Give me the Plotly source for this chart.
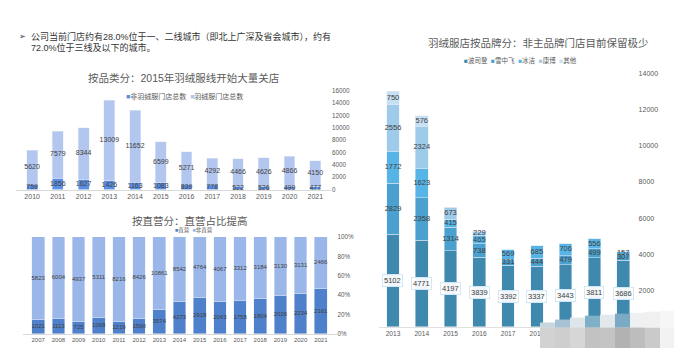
import plotly.graph_objects as go

W, H = 674, 351

# ---------------- data ----------------
years1 = ['2010', '2011', '2012', '2013', '2014', '2015', '2016', '2017', '2018', '2019', '2020', '2021']
non_down = [759, 1856, 1627, 1426, 1163, 1083, 839, 778, 522, 526, 499, 477]
down = [5620, 7579, 8344, 13009, 11652, 6599, 5271, 4292, 4466, 4626, 4866, 4150]

years2 = ['2007', '2008', '2009', '2010', '2011', '2012', '2013', '2014', '2015', '2016', '2017', '2018', '2019', '2020', '2021']
direct = [1021, 1113, 725, 1068, 1219, 1590, 3574, 4273, 2918, 2043, 1758, 1804, 2026, 2234, 2161]
non_direct = [5823, 6004, 4937, 5311, 8216, 8426, 10861, 8542, 4764, 4067, 3312, 3184, 3130, 3131, 2466]

years3 = ['2013', '2014', '2015', '2016', '2017', '2018', '2019', '2020', '2021']
bosideng = [5102, 4771, 4197, 3839, 3392, 3337, 3443, 3811, 3686]
xuezhongfei = [2829, 2358, 1314, 738, 331, 444, 479, 499, 307]
bingjie = [1772, 1623, 415, 465, 569, 685, 706, 556, 157]
kangbo = [2556, 2324, 673, 229, 0, 0, 0, 0, 0]
other = [750, 576, 0, 0, 0, 0, 0, 0, 0]
brand_names = ['波司登', '雪中飞', '冰洁', '康博', '其他']

ticks1 = [0, 2000, 4000, 6000, 8000, 10000, 12000, 14000, 16000]
ticks2 = [0, 0.2, 0.4, 0.6, 0.8, 1.0]
ticks3 = [0, 2000, 4000, 6000, 8000, 10000, 12000, 14000]

# ---------------- style ----------------
FONT = 'Liberation Sans, Noto Sans CJK SC, sans-serif'
GRAY = '#595959'
LBL = '#404040'
c1 = ['#5b8fe6', '#b2c6ef']
c2 = ['#4f80cb', '#9bb7ea']
c3 = ['#3f88ae', '#4aa0cf', '#56b4e6', '#9ecbea', '#c6e1f4']


def px(x):
    return x / W


def py(y):
    return 1 - y / H


fig = go.Figure()

# ---------- chart 1 ----------
fig.add_trace(go.Bar(x=years1, y=non_down, marker_color=c1[0], width=0.42,
                     xaxis='x', yaxis='y', showlegend=False, hoverinfo='skip'))
fig.add_trace(go.Bar(x=years1, y=down, marker_color=c1[1], width=0.42,
                     xaxis='x', yaxis='y', showlegend=False, hoverinfo='skip'))
fig.add_trace(go.Scatter(x=years1, y=[v / 2 for v in non_down], text=[str(v) for v in non_down],
                         mode='text', textfont=dict(size=7, color=LBL), xaxis='x', yaxis='y',
                         showlegend=False, hoverinfo='skip', cliponaxis=False))
fig.add_trace(go.Scatter(x=years1, y=[a + b / 2 for a, b in zip(non_down, down)], text=[str(v) for v in down],
                         mode='text', textfont=dict(size=7, color=LBL), xaxis='x', yaxis='y',
                         showlegend=False, hoverinfo='skip', cliponaxis=False))

# ---------- chart 2 ----------
tot2 = [a + b for a, b in zip(direct, non_direct)]
fr_d = [a / t for a, t in zip(direct, tot2)]
fr_n = [b / t for b, t in zip(non_direct, tot2)]
fig.add_trace(go.Bar(x=years2, y=fr_d, marker_color=c2[0], width=0.63,
                     xaxis='x2', yaxis='y2', showlegend=False, hoverinfo='skip'))
fig.add_trace(go.Bar(x=years2, y=fr_n, marker_color=c2[1], width=0.63,
                     xaxis='x2', yaxis='y2', showlegend=False, hoverinfo='skip'))
fig.add_trace(go.Scatter(x=years2, y=[f / 2 for f in fr_d], text=[str(v) for v in direct],
                         mode='text', textfont=dict(size=6, color=LBL), xaxis='x2', yaxis='y2',
                         showlegend=False, hoverinfo='skip', cliponaxis=False))
fig.add_trace(go.Scatter(x=years2, y=[a + b / 2 for a, b in zip(fr_d, fr_n)], text=[str(v) for v in non_direct],
                         mode='text', textfont=dict(size=6, color=LBL), xaxis='x2', yaxis='y2',
                         showlegend=False, hoverinfo='skip', cliponaxis=False))

# ---------- chart 3 ----------
idx3 = list(range(len(years3)))
series3 = [bosideng, xuezhongfei, bingjie, kangbo, other]
cum = [0] * len(years3)
label_traces = []
for i, s in enumerate(series3):
    fig.add_trace(go.Bar(x=idx3, y=s, marker_color=c3[i], width=0.44, name=brand_names[i],
                         xaxis='x3', yaxis='y3', showlegend=False, hoverinfo='skip'))
    if i > 0:
        xs, ys, ts = [], [], []
        for j, v in enumerate(s):
            if v:
                xs.append(idx3[j]); ys.append(cum[j] + v / 2); ts.append(str(v))
        label_traces.append(go.Scatter(x=xs, y=ys, text=ts, mode='text',
                                       textfont=dict(size=7.5, color=LBL), xaxis='x3', yaxis='y3',
                                       showlegend=False, hoverinfo='skip', cliponaxis=False))
    cum = [b + v for b, v in zip(cum, s)]
for t in label_traces:
    fig.add_trace(t)

annotations = []
for j, v in zip(idx3, bosideng):
    annotations.append(dict(x=j, y=v / 2, xref='x3', yref='y3', text=str(v), showarrow=False,
                            font=dict(size=7.5, color=LBL), bgcolor='rgba(255,255,255,0.92)',
                            bordercolor='#d3e8f6', borderwidth=1, borderpad=1))

# ---------- texts ----------
def txt(x, y, s, size, color=GRAY, xanchor='center'):
    annotations.append(dict(x=px(x), y=py(y), xref='paper', yref='paper', text=s, showarrow=False,
                            xanchor=xanchor, yanchor='middle', font=dict(size=size, color=color)))

txt(17, 33, '➢', 8, '#333333', 'left')
txt(29, 33, '公司当前门店约有28.0%位于一、二线城市（即北上广深及省会城市），约有', 9, '#333333', 'left')
txt(29, 44, '72.0%位于三线及以下的城市。', 9, '#333333', 'left')

txt(183, 75, '按品类分：2015年羽绒服线开始大量关店', 10.5)
txt(190, 221, '按直营分：直营占比提高', 10.5)
txt(538, 40, '羽绒服店按品牌分：非主品牌门店目前保留极少', 10.5)


def sq(c):
    return f"<span style='color:{c}'>■</span>"

txt(184, 94.5, f"{sq(c1[0])}非羽绒服门店总数  {sq(c1[1])}羽绒服门店总数", 7)
txt(194, 231, f"{sq(c2[0])}直营  {sq(c2[1])}非直营", 5.5)
txt(520, 58, '  '.join(sq(c) + n for c, n in zip(c3, brand_names)), 6.5)

# ---------- mosaic watermark (decoration) ----------
mosaic = [
    (540, 555, 330, 351, '#d2d2d2'), (555, 570, 330, 351, '#cecece'), (570, 585, 330, 351, '#d6d6d6'),
    (585, 600, 330, 351, '#c2c2c2'), (600, 615, 330, 351, '#c4c4c4'), (615, 630, 330, 351, '#b2b2b2'),
    (630, 645, 330, 351, '#bdbdbd'), (645, 660, 330, 351, '#cacaca'), (660, 674, 330, 351, '#f2f2f2'),
    (540, 555, 325, 330, '#c8d6de'), (555, 570, 322, 330, '#a7c3d3'), (570, 585, 320, 330, '#dfe6ea'),
    (585, 600, 318, 330, '#7fb0c8'), (600, 615, 317, 330, '#e2e8ec'), (615, 630, 316, 330, '#7aaac4'),
    (630, 645, 315, 330, '#eef0f2'), (645, 660, 314, 330, '#f0f0f0'), (660, 674, 313, 330, '#f6f6f6'),
]
shapes = [dict(type='rect', xref='paper', yref='paper', x0=px(a), x1=px(b), y0=py(d), y1=py(c),
               fillcolor=col, line=dict(width=0), layer='above') for a, b, c, d, col in mosaic]

axis_common = dict(showgrid=False, zeroline=False, ticks='', fixedrange=True)

fig.update_layout(
    width=W, height=H, margin=dict(l=0, r=0, t=0, b=0),
    paper_bgcolor='white', plot_bgcolor='white',
    font=dict(family=FONT, color=GRAY),
    barmode='stack',
    annotations=annotations, shapes=shapes,
    xaxis=dict(domain=[px(16.4), px(331)], anchor='y', type='category', showline=True,
               linecolor='#d9d9d9', tickfont=dict(size=7, color=GRAY), **axis_common),
    yaxis=dict(domain=[py(189.3), py(88.3)], anchor='x', side='right', range=[0, 16000],
               tickvals=ticks1, ticktext=[str(t) for t in ticks1], showline=False,
               tickfont=dict(size=6.3, color=GRAY), **axis_common),
    xaxis2=dict(domain=[px(22.5), px(336.5)], anchor='y2', type='category', showline=True,
                linecolor='#d9d9d9', tickfont=dict(size=6, color=GRAY), **axis_common),
    yaxis2=dict(domain=[py(336.7), py(237.7)], anchor='x2', side='right', range=[0, 1],
                tickvals=ticks2, tickformat='.0%', showline=False, tickfont=dict(size=6.3, color=GRAY),
                **axis_common),
    xaxis3=dict(domain=[px(378.6), px(637.6)], anchor='y3', type='linear', showline=True,
                range=[-0.5, len(years3) - 0.5], tickvals=idx3, ticktext=years3,
                linecolor='#e0e0e0', tickfont=dict(size=6.6, color=GRAY), **axis_common),
    yaxis3=dict(domain=[py(329.5), py(70.5)], anchor='x3', side='right', range=[0, 14000],
                tickvals=ticks3, ticktext=[str(t) for t in ticks3], showline=False,
                tickfont=dict(size=7, color=GRAY), **axis_common),
)

fig.write_html('out.html')
